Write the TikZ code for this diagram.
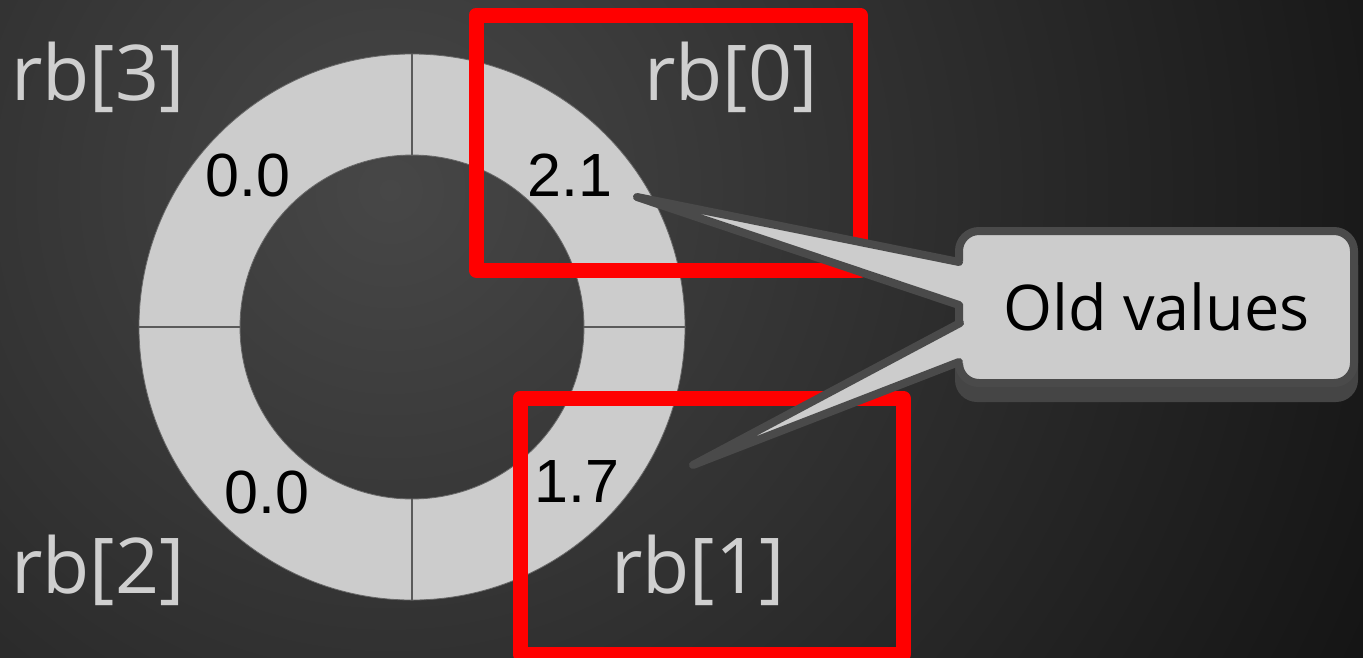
\documentclass[tikz,border=0pt]{standalone}
\usepackage{fontspec}
\usetikzlibrary{calc}
\setmainfont{Liberation Sans}
\newfontfamily\labfont{Open Sans}
\definecolor{ringgray}{HTML}{CCCCCC}
\definecolor{edgegray}{HTML}{4A4A4A}
\definecolor{divgray}{HTML}{5A5A5A}
\definecolor{bgin}{HTML}{474747}
\definecolor{bgout}{HTML}{0F0F0F}
\definecolor{labgray}{HTML}{CFCFCF}
\definecolor{shadowgray}{HTML}{454545}
\pgfdeclareradialshading{bgshade}{\pgfpointorigin}{color(0bp)=(bgin); color(25bp)=(bgout); color(50bp)=(bgout)}
\begin{document}
\begin{tikzpicture}[x=1pt,y=-1pt,
  num/.style={anchor=base, inner sep=0pt, text=black, font=\fontsize{61}{61}\selectfont},
  rblabel/.style={anchor=base, inner sep=0pt, text=labgray, font=\labfont\fontsize{77}{77}\selectfont},
  redbox/.style={draw=red, line width=15pt, line join=round},
  divider/.style={draw=divgray, line width=2pt},
  callout/.style={draw=edgegray, fill=ringgray, line width=8pt, rounded corners=20pt,
    minimum width=395pt, minimum height=152pt, inner sep=0pt, text=black,
    font=\labfont\fontsize{63}{63}\selectfont},
  wedgeline/.style={draw=edgegray, line width=8pt, line cap=round, line join=round}]
\useasboundingbox (0,0) rectangle (1363,657);
% background
\begin{scope}
\clip (0,0) rectangle (1363,657);
\shade[shading=bgshade] (390,190) circle[radius=1200pt];
\end{scope}
% ring
\coordinate (c) at (412,327);
\fill[ringgray, even odd rule, draw=gray!80!black, line width=0.8pt] (c) circle[radius=273pt] (c) circle[radius=172pt];
\coordinate (dtA) at (412,54); \coordinate (dtB) at (412,155);
\coordinate (dbA) at (412,499); \coordinate (dbB) at (412,600);
\coordinate (dlA) at (139,327); \coordinate (dlB) at (240,327);
\coordinate (drA) at (584,327); \coordinate (drB) at (685,327);
\draw[divider] (dtA) -- (dtB);
\draw[divider] (dbA) -- (dbB);
\draw[divider] (dlA) -- (dlB);
\draw[divider] (drA) -- (drB);
% values
\node[num] (v3) at (248,196) {0.0};
\node[num] (v0) at (570,196) {2.1};
\node[num] (v2) at (267,513) {0.0};
\node[num] (v1) at (577,502) {1.7};
% labels
\node[rblabel] (l3) at (98,100) {rb[3]};
\node[rblabel] (l0) at (731,100) {rb[0]};
\node[rblabel] (l2) at (98,593) {rb[2]};
\node[rblabel] (l1) at (698,593) {rb[1]};
% red boxes
\draw[redbox] (476,15) rectangle (860,270);
\draw[redbox] (520,398) rectangle (903,654);
% callout
\fill[shadowgray, rounded corners=22pt] (955,243) rectangle (1358,402);
\node[callout] (box) at (1156.5,307) {Old values};
\coordinate (t1) at (637,197);
\coordinate (t2) at (693,465);
\coordinate (w1a) at (959,262);
\coordinate (w1b) at (959,305);
\coordinate (w2a) at (960,323);
\coordinate (w2b) at (959,362);
\fill[ringgray] (t1) -- ($(w1a)+(7,0)$) -- ($(w1b)+(7,0)$) -- cycle;
\fill[ringgray] (t2) -- ($(w2a)+(7,0)$) -- ($(w2b)+(7,0)$) -- cycle;
\draw[wedgeline] (w1a) -- (t1) -- (w1b);
\draw[wedgeline] (w2a) -- (t2) -- (w2b);
\end{tikzpicture}
\end{document}
